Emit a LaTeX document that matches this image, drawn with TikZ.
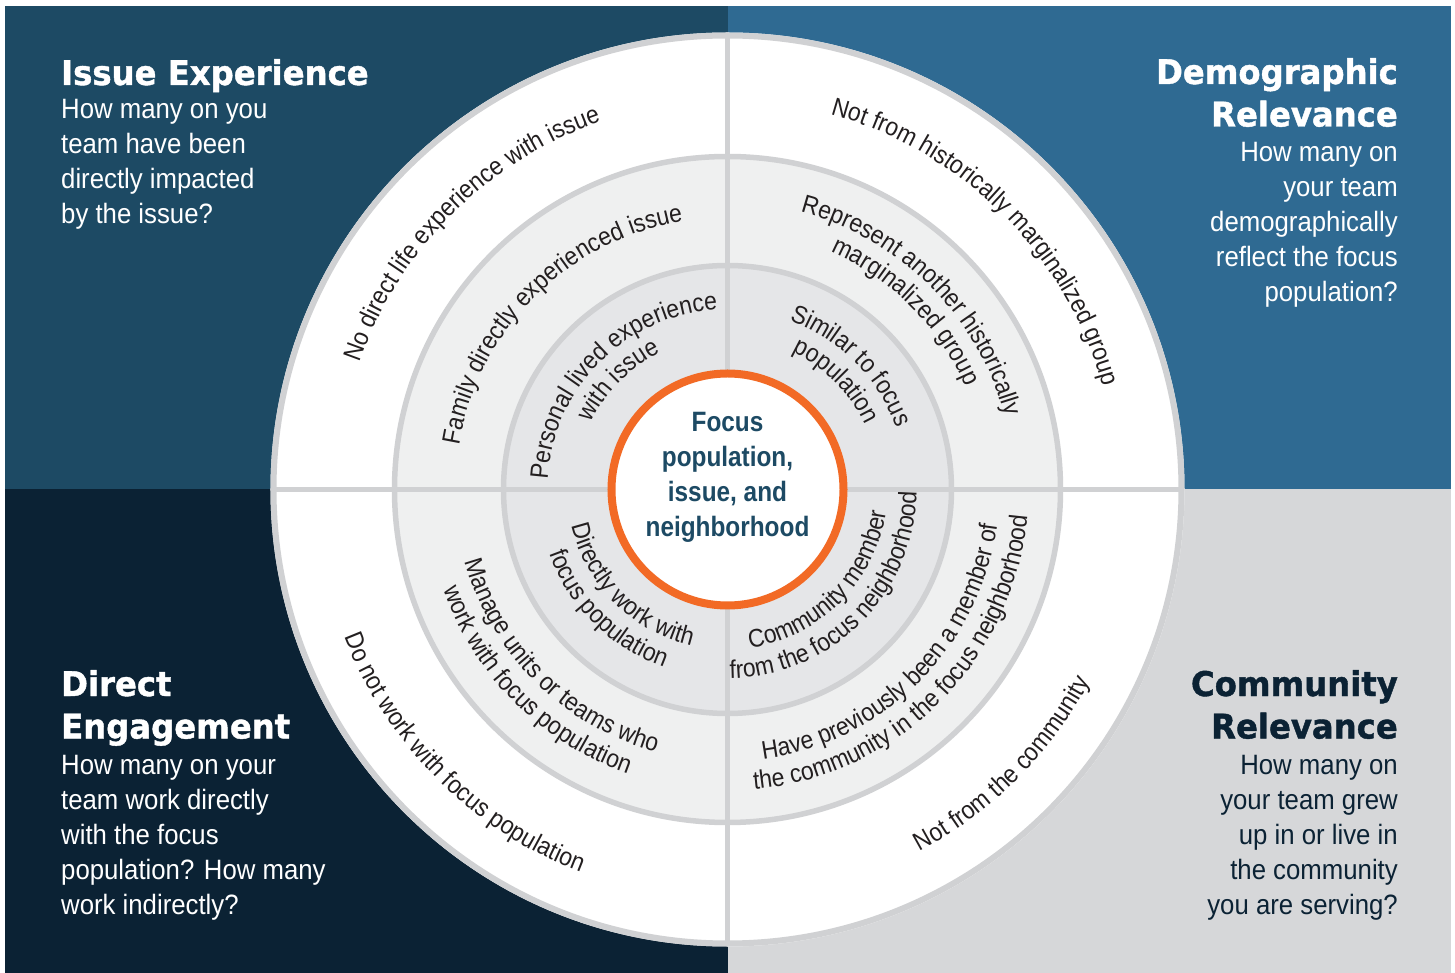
\documentclass[tikz,border=0pt]{standalone}
\usepackage{fontspec}
\setmainfont{Liberation Sans}
\newfontfamily\bodyfamily[FakeStretch=0.92]{Liberation Sans}
\newfontfamily\ringfamily[FakeStretch=0.9]{Liberation Sans}
\newfontfamily\hubfamily[FakeStretch=0.87]{Liberation Sans}
\newfontfamily\headfamily[FakeStretch=0.95,FakeBold=1.2]{DejaVu Sans}
\usetikzlibrary{decorations.text}
\definecolor{issueblue}{HTML}{1D4A64}
\definecolor{demoblue}{HTML}{2F6A92}
\definecolor{engagenavy}{HTML}{0B2234}
\definecolor{commgrey}{HTML}{D6D7D9}
\definecolor{ringline}{HTML}{D0D1D3}
\definecolor{midring}{HTML}{EFF0F0}
\definecolor{innerring}{HTML}{E5E6E8}
\definecolor{hubring}{HTML}{F26A25}
\definecolor{ringink}{HTML}{231F20}
\newcommand\headfont{\headfamily\bfseries\fontsize{34}{42.5}\selectfont}
\newcommand\bodyfont{\bodyfamily\fontsize{28}{35}\selectfont}
\newcommand\ringfont{\ringfamily\fontsize{25.5}{29}\selectfont\color{ringink}}
\newcommand\hubfont{\hubfamily\bfseries\fontsize{28}{35}\selectfont}
\tikzset{
  headtext/.style={inner sep=0pt,font=\headfont},
  bodytext/.style={inner sep=0pt,font=\bodyfont},
  ringtext/.style={decorate,decoration={text along path,text align=center,
    text={|\ringfont|#1}}},
  divider/.style={ringline,line width=5.5pt}
}
\begin{document}
\begin{tikzpicture}[x=1pt,y=1pt]
\useasboundingbox (-727.5,-483.5) rectangle (727.5,489.5);
% quadrants
\fill[issueblue] (-722.5,483.5) rectangle (0,0);
\fill[demoblue] (0,483.5) rectangle (723.5,0);
\fill[engagenavy] (-722.5,0) rectangle (0,-483.5);
\fill[commgrey] (0,0) rectangle (723.5,-483.5);
% rings
\fill[white] (0,0) circle[radius=457];
\draw[ringline,line width=6pt] (0,0) circle[radius=454];
\fill[midring] (0,0) circle[radius=333];
\draw[divider] (0,0) circle[radius=333];
\fill[innerring] (0,0) circle[radius=224];
\draw[divider] (0,0) circle[radius=224];
\draw[divider] (-454,0)--(454,0);
\draw[divider] (0,-454)--(0,454);
\node[circle,draw=hubring,line width=8pt,fill=white,minimum size=232pt,inner sep=0pt] (hub) at (0,0) {};
% base of a multi-line node = its last line
\node[inner sep=0pt,font=\hubfont,text=issueblue,align=center,anchor=base] (hubtext) at (0,-47.5)
  {Focus\\population,\\issue, and\\neighborhood};
%
% outer ring
\path[ringtext={No direct life experience with issue}] (180:389) arc[start angle=180,end angle=90,radius=389];
\path[ringtext={Not from historically marginalized group}] (90:389) arc[start angle=90,end angle=0,radius=389];
\path[ringtext={Do not work with focus population}] (180:410) arc[start angle=180,end angle=270,radius=410];
\path[ringtext={Not from the community}] (270:410) arc[start angle=270,end angle=360,radius=410];
% middle ring
\path[ringtext={Family directly experienced issue}] (180:272) arc[start angle=180,end angle=90,radius=272];
\path[ringtext={Represent another historically}] (90:287) arc[start angle=90,end angle=0,radius=287];
\path[ringtext={marginalized group}] (90:259) arc[start angle=90,end angle=0,radius=259];
\path[ringtext={Manage units or teams who}] (180:272) arc[start angle=180,end angle=270,radius=272];
\path[ringtext={work with focus population}] (180:301) arc[start angle=180,end angle=270,radius=301];
\path[ringtext={Have previously been a member of}] (270:272) arc[start angle=270,end angle=360,radius=272];
\path[ringtext={the community in the focus neighborhood}] (270:301) arc[start angle=270,end angle=360,radius=301];
% inner ring
\path[ringtext={Personal lived experience}] (180:180) arc[start angle=180,end angle=90,radius=180];
\path[ringtext={with issue}] (180:152) arc[start angle=180,end angle=90,radius=152];
\path[ringtext={Similar to focus}] (90:180) arc[start angle=90,end angle=0,radius=180];
\path[ringtext={population}] (90:152) arc[start angle=90,end angle=0,radius=152];
\path[ringtext={Directly work with}] (180:160) arc[start angle=180,end angle=270,radius=160];
\path[ringtext={focus population}] (180:189) arc[start angle=180,end angle=270,radius=189];
\path[ringtext={Community member}] (270:160) arc[start angle=270,end angle=360,radius=160];
\path[ringtext={from the focus neighborhood}] (270:189) arc[start angle=270,end angle=360,radius=189];
%
% quadrant captions
\node[headtext,text=white,anchor=base west] (issuehead) at (-666.5,404.5) {Issue Experience};
\node[bodytext,text=white,anchor=base west,align=left] (issuebody) at (-666.5,265.5)
  {How many on you\\team have been\\directly impacted\\by the issue?};
\node[headtext,text=white,anchor=base east,align=right] (demohead) at (670.5,363) {Demographic\\Relevance};
\node[bodytext,text=white,anchor=base east,align=right] (demobody) at (670.5,187.5)
  {How many on\\your team\\demographically\\reflect the focus\\population?};
\node[headtext,text=white,anchor=base west,align=left] (engagehead) at (-666.5,-249) {Direct\\Engagement};
\node[bodytext,text=white,anchor=base west,align=left] (engagebody) at (-666.5,-424.5)
  {How many on your\\team work directly\\with the focus\\population? How many\\work indirectly?};
\node[headtext,text=engagenavy,anchor=base east,align=right] (commhead) at (670.5,-249) {Community\\Relevance};
\node[bodytext,text=engagenavy,anchor=base east,align=right] (commbody) at (670.5,-424.5)
  {How many on\\your team grew\\up in or live in\\the community\\you are serving?};
\end{tikzpicture}
\end{document}
